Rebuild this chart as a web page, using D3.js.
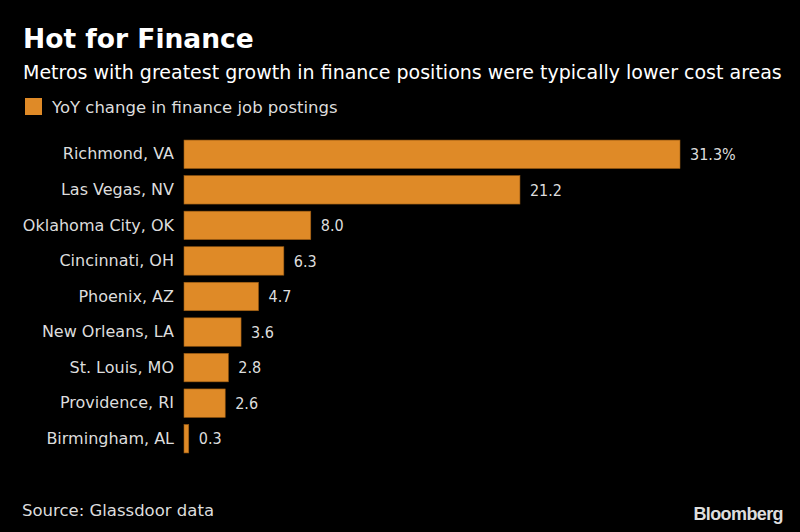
<!DOCTYPE html>
<html><head><meta charset="utf-8">
<script src="https://cdn.jsdelivr.net/npm/d3@7"></script>
<style>
html,body{margin:0;padding:0;background:#000;}
svg{display:block;}
text{font-family:"DejaVu Sans",sans-serif;}
</style></head>
<body>
<svg id="chart" width="800" height="532"></svg>
<script>
const categories = ["Richmond, VA","Las Vegas, NV","Oklahoma City, OK","Cincinnati, OH","Phoenix, AZ","New Orleans, LA","St. Louis, MO","Providence, RI","Birmingham, AL"];
const values = [31.3,21.2,8.0,6.3,4.7,3.6,2.8,2.6,0.3];
const valueLabels = ["31.3%","21.2","8.0","6.3","4.7","3.6","2.8","2.6","0.3"];
const seriesName = "YoY change in finance job postings";

const svg = d3.select("#chart");
const W = 800, H = 532;
svg.append("rect").attr("width",W).attr("height",H).attr("fill","#000");

const barColor = "#DF8A27", barStroke = "#9a5a12";
const left = 184;
const x = d3.scaleLinear().domain([0, 31.3]).range([left, 680]);
const y = d3.scaleBand().domain(categories).range([136.5, 456.5]).paddingInner(0.2).paddingOuter(0.1);

svg.append("text").attr("x",23).attr("y",48).attr("fill","#fff")
  .attr("font-size",26.5).attr("font-weight","bold").text("Hot for Finance");
svg.append("text").attr("x",23).attr("y",79).attr("fill","#fff")
  .attr("font-size",19).text("Metros with greatest growth in finance positions were typically lower cost areas");

svg.append("rect").attr("x",25).attr("y",98).attr("width",17).attr("height",17).attr("fill",barColor);
svg.append("text").attr("x",52).attr("y",113).attr("fill","#ddd")
  .attr("font-size",16.5).text(seriesName);

const g = svg.append("g");
g.selectAll("rect.bar").data(values).join("rect").attr("class","bar")
  .attr("x", x(0)).attr("y",(d,i)=>y(categories[i]))
  .attr("width", d=>x(d)-x(0)).attr("height", y.bandwidth())
  .attr("fill", barColor).attr("stroke", barStroke).attr("stroke-width",0.6);

g.selectAll("text.val").data(values).join("text").attr("class","val")
  .attr("x", d=>x(d)+10).attr("y",(d,i)=>y(categories[i])+y.bandwidth()/2)
  .attr("dy","0.36em").attr("fill","#ddd").attr("font-size",16)
  .style("font-family","'DejaVu Sans Condensed','DejaVu Sans',sans-serif")
  .text((d,i)=>valueLabels[i]);

const yAxis = d3.axisLeft(y).tickSize(0).tickPadding(10);
const ax = svg.append("g").attr("transform",`translate(${left},0)`).call(yAxis);
ax.select(".domain").remove();
ax.selectAll("text").attr("fill","#ddd").attr("font-size",16)
  .attr("font-family","DejaVu Sans, sans-serif");

svg.append("text").attr("x",22).attr("y",516).attr("fill","#ddd")
  .attr("font-size",16.5).text("Source: Glassdoor data");
svg.append("text").attr("x",783).attr("y",520).attr("text-anchor","end").attr("fill","#ddd")
  .attr("font-size",18).attr("font-weight","bold").attr("letter-spacing","-0.6")
  .style("font-family","'Liberation Sans', Arial, sans-serif").text("Bloomberg");
</script>
</body></html>
